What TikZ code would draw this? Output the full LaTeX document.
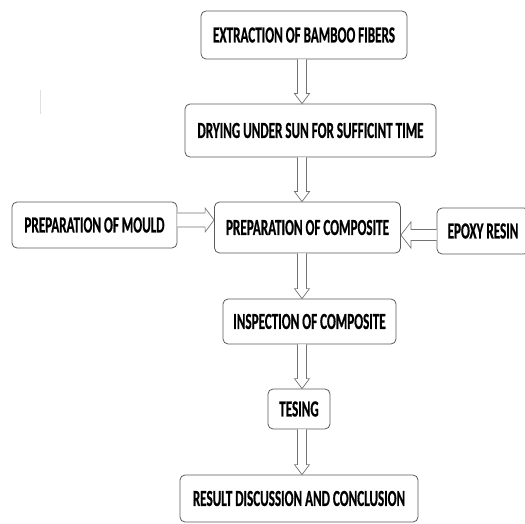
\documentclass[tikz,border=0pt]{standalone}
\usepackage{fontspec}
\setmainfont{Carlito}
\newfontfamily\boxfont[FakeStretch=0.57,FakeBold=0.6]{Carlito Bold}
\usetikzlibrary{calc}
\tikzset{
  x=1pt,y=1pt,
  stepbox/.style={draw=black!65, line width=0.8pt, rounded corners=5pt, fill=white,
    inner sep=0pt, font=\boxfont\fontsize{23}{25}\selectfont, align=center},
  blk/.style={draw=black!55, line width=0.7pt, fill=white, line join=miter},
}
\newcommand{\downblk}[2]{%
  \draw[blk] let \p1=(#1), \p2=(#2) in
    (\x1-4.5pt,\y1) -- (\x1-4.5pt,\y2+10pt) -- (\x1-7.5pt,\y2+10pt) -- (\x1,\y2)
    -- (\x1+7.5pt,\y2+10pt) -- (\x1+4.5pt,\y2+10pt) -- (\x1+4.5pt,\y1);}
\newcommand{\rightblk}[5]{%
  \draw[blk] let \p1=(#1), \p2=(#2) in
    (\x1,\y1+#3pt) -- (\x2-#5pt,\y1+#3pt) -- (\x2-#5pt,\y1+#4pt) -- (\x2,\y1)
    -- (\x2-#5pt,\y1-#4pt) -- (\x2-#5pt,\y1-#3pt) -- (\x1,\y1-#3pt);}
\newcommand{\leftblk}[5]{%
  \draw[blk] let \p1=(#1), \p2=(#2) in
    (\x1,\y1+#3pt) -- (\x2+#5pt,\y1+#3pt) -- (\x2+#5pt,\y1+#4pt) -- (\x2,\y1)
    -- (\x2+#5pt,\y1-#4pt) -- (\x2+#5pt,\y1-#3pt) -- (\x1,\y1-#3pt);}
\begin{document}
\begin{tikzpicture}
\useasboundingbox (0,0) rectangle (525,523);
\node[stepbox, minimum width=206, minimum height=48] (b1) at (304,488) {EXTRACTION OF BAMBOO FIBERS};
\node[stepbox, minimum width=251, minimum height=53] (b2) at (310.5,392.5) {DRYING UNDER SUN FOR SUFFICINT TIME};
\node[stepbox, minimum width=165, minimum height=46] (mould) at (94.5,298) {PREPARATION OF MOULD};
\node[stepbox, minimum width=186, minimum height=51] (comp) at (307.5,295.5) {PREPARATION OF COMPOSITE};
\node[stepbox, minimum width=92, minimum height=46] (epoxy) at (483,292) {EPOXY RESIN};
\node[stepbox, minimum width=173, minimum height=45] (insp) at (309.5,201.5) {INSPECTION OF COMPOSITE};
\node[stepbox, minimum width=62, minimum height=40] (test) at (299,114) {TESING};
\node[stepbox, minimum width=238, minimum height=47] (res) at (299,24.5) {RESULT DISCUSSION AND CONCLUSION};
\coordinate (ax) at (302,0);
\coordinate (ay1) at (0,303);
\coordinate (ay2) at (0,288);
\downblk{b1.south -| ax}{b2.north -| ax}
\downblk{b2.south -| ax}{comp.north -| ax}
\downblk{comp.south -| ax}{insp.north -| ax}
\downblk{insp.south -| ax}{test.north -| ax}
\downblk{test.south -| ax}{res.north -| ax}
\rightblk{mould.east |- ay1}{comp.west |- ay1}{7}{12}{9}
\leftblk{epoxy.west |- ay2}{comp.east |- ay2}{5.5}{13}{10}
\coordinate (s1) at (40,433);
\coordinate (s2) at (40,409);
\draw[black!12, line width=0.8pt] (s1) -- (s2);
\end{tikzpicture}
\end{document}
